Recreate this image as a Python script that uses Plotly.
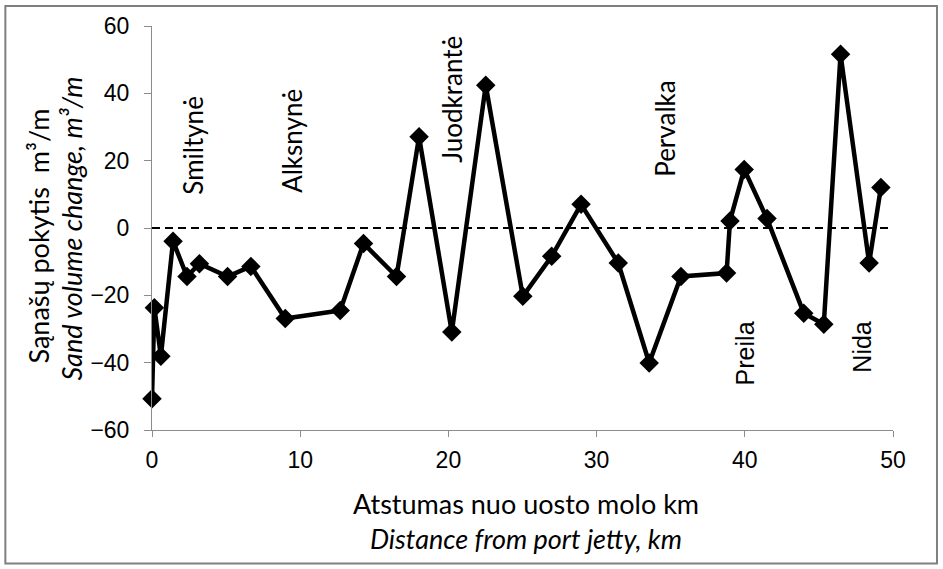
import plotly.graph_objects as go

# Distance along the spit (km) and sand volume change (m³/m)
distance_km = [0, 0.16, 0.6, 1.42, 2.36, 3.2, 5.1, 6.67, 8.99, 12.7, 14.27, 16.5,
               18.02, 20.23, 22.52, 25.02, 26.97, 28.95, 31.46, 33.55, 35.69,
               38.77, 39.0, 39.96, 41.5, 43.98, 45.33, 46.46, 48.39, 49.18]
volume_change = [-50.7, -23.7, -38.1, -3.9, -14.4, -10.6, -14.4, -11.4, -26.9,
                 -24.5, -4.6, -14.4, 27.1, -30.9, 42.4, -20.3, -8.4, 7.05, -10.4,
                 -40.1, -14.4, -13.4, 2.1, 17.4, 2.8, -25.3, -28.6, 51.6, -10.4, 12.0]

# Settlement names with their positions on the chart
place_names = ["Smiltynė", "Alksnynė", "Juodkrantė", "Pervalka", "Preila", "Nida"]
place_x = [2.8, 9.47, 20.23, 34.6, 40.0, 47.94]
place_y = [24.6, 26.0, 38.3, 29.4, -37.3, -35.1]
place_fonts = ["Lato", "Lato", "Lato", "Lato", "Liberation Sans", "Liberation Sans"]
place_sizes = [26, 26, 26, 26, 25, 25]

zero_x = [0, 49.7]
zero_y = [0, 0]

x_ticks = [0, 10, 20, 30, 40, 50]
y_ticks = [-60, -40, -20, 0, 20, 40, 60]

W, H = 943, 569
L, R, T, B = 151.7, 50, 26, 139.4
PW, PH = W - L - R, H - T - B


def px_to_paper_x(px):
    return (px - L) / PW


def px_to_paper_y(py):
    return (H - B - py) / PH


fig = go.Figure()

fig.add_trace(go.Scatter(
    x=zero_x, y=zero_y, mode="lines",
    line=dict(color="black", width=2, dash="8px,5px"),
    hoverinfo="skip", showlegend=False,
))

fig.add_trace(go.Scatter(
    x=distance_km, y=volume_change, mode="lines+markers",
    line=dict(color="black", width=4.5),
    marker=dict(symbol="diamond", size=15, color="black"),
    cliponaxis=False, showlegend=False,
))

for name, px, py, fnt, fs in zip(place_names, place_x, place_y, place_fonts, place_sizes):
    fig.add_annotation(
        x=px, y=py, xref="x", yref="y", text=name, showarrow=False,
        textangle=-90, xanchor="center", yanchor="middle",
        font=dict(family=fnt, size=fs, color="black"),
    )

# Axis titles (two languages), placed in pixel terms
title_font = dict(family="Lato", size=27, color="black")
titles = [
    ("Sąnašų pokytis  m³/m", 38, 236, -90),
    ("<i>Sand volume change, m³/m</i>", 71, 228, -90),
    ("Atstumas nuo uosto molo km", 526, 503, 0),
    ("<i>Distance from port jetty, km</i>", 526, 538, 0),
]
for text, tx, ty, ang in titles:
    fig.add_annotation(
        x=px_to_paper_x(tx), y=px_to_paper_y(ty), xref="paper", yref="paper",
        text=text, showarrow=False, textangle=ang,
        xanchor="center", yanchor="middle", font=title_font,
    )

# outer frame around the whole chart
fig.add_shape(
    type="rect", xref="paper", yref="paper",
    x0=px_to_paper_x(5), x1=px_to_paper_x(937),
    y0=px_to_paper_y(563), y1=px_to_paper_y(6),
    line=dict(color="#7f7f7f", width=2), fillcolor="rgba(0,0,0,0)", layer="below",
)

fig.update_layout(
    width=W, height=H,
    margin=dict(l=L, r=R, t=T, b=B, pad=0),
    paper_bgcolor="white", plot_bgcolor="white",
    font=dict(family="Liberation Sans", size=24, color="black"),
    xaxis=dict(
        range=[0, 50], tickvals=x_ticks, showgrid=False, zeroline=False,
        showline=True, linecolor="#8c8c8c", linewidth=1,
        ticks="outside", ticklen=6, tickcolor="#8c8c8c",
        tickfont=dict(family="Liberation Sans", size=23),
        ticklabelstandoff=3,
    ),
    yaxis=dict(
        range=[-60, 60], tickvals=y_ticks, showgrid=False, zeroline=False,
        showline=True, linecolor="#8c8c8c", linewidth=1,
        ticks="outside", ticklen=7, tickcolor="#8c8c8c",
        tickfont=dict(family="Liberation Sans", size=23),
        ticklabelstandoff=10,
    ),
)

fig.write_html("out.html")
